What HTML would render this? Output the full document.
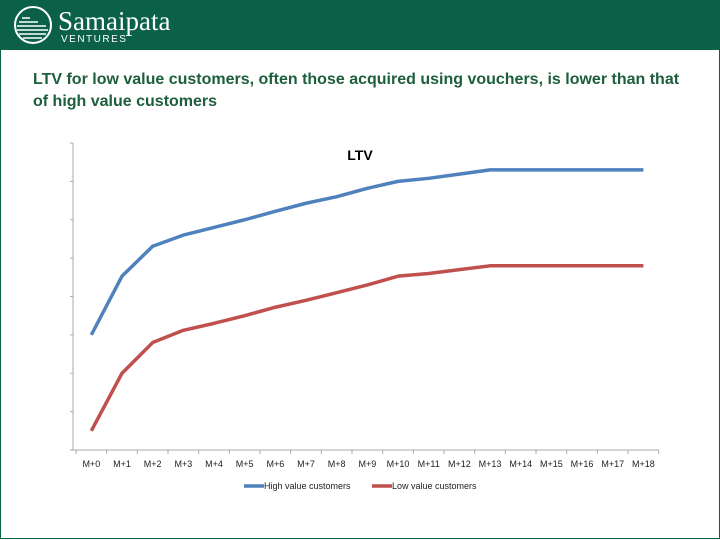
<!DOCTYPE html>
<html><head><meta charset="utf-8"><style>
body{margin:0;width:720px;height:540px;overflow:hidden;background:#fff;font-family:"Liberation Sans",sans-serif;position:relative}
#hdr{position:absolute;left:0;top:0;width:720px;height:50px;background:#0b6148}
#frame{position:absolute;left:0;top:50px;width:718px;height:488px;border:1px solid #0b6148;border-top:none}
#title{position:absolute;left:33px;top:69px;width:660px;font-size:16px;font-weight:bold;color:#1d5e3c;line-height:22px}
</style></head><body>
<div id="hdr">
<svg width="200" height="50">
<circle cx="33" cy="25" r="18" fill="none" stroke="#fff" stroke-width="2"/>
<g stroke="#fff" stroke-width="1.5"><line x1="22" y1="18" x2="30" y2="18"/><line x1="19" y1="22" x2="38" y2="22"/><line x1="17" y1="26" x2="46" y2="26"/><line x1="17" y1="30" x2="48" y2="30"/><line x1="19" y1="34" x2="46" y2="34"/><line x1="23" y1="38" x2="42" y2="38"/></g>
<text x="58" y="30" fill="#fff" font-family="Liberation Serif" font-size="27">Samaipata</text>
<text x="61" y="42" fill="#fff" font-size="10" letter-spacing="1.5">VENTURES</text>
</svg></div>
<div id="frame"></div>
<div id="title">LTV for low value customers, often those acquired using vouchers, is lower than that of high value customers</div>
<svg id="chart" width="720" height="540" style="position:absolute;left:0;top:0"></svg>
<script>
const categories=["M+0","M+1","M+2","M+3","M+4","M+5","M+6","M+7","M+8","M+9","M+10","M+11","M+12","M+13","M+14","M+15","M+16","M+17","M+18"];
const highValues=[3.0,4.53,5.31,5.6,5.8,6.0,6.22,6.43,6.6,6.82,7.0,7.08,7.19,7.3,7.3,7.3,7.3,7.3,7.3];
const lowValues=[0.5,2.0,2.8,3.12,3.3,3.5,3.72,3.9,4.1,4.3,4.53,4.6,4.7,4.8,4.8,4.8,4.8,4.8,4.8];
const yTicks=[0,1,2,3,4,5,6,7,8];
const seriesNames=["High value customers","Low value customers"];
const NS="http://www.w3.org/2000/svg",svg=document.getElementById('chart');
const x0=76,band=30.67,yBot=450,yTop=143,yMax=8;
const xs=i=>x0+band*(i+0.5), ys=v=>yBot-(v/yMax)*(yBot-yTop);
function mk(t,a){const e=document.createElementNS(NS,t);for(const k in a)e.setAttribute(k,a[k]);svg.appendChild(e);return e;}
let e=mk('line',{x1:73,y1:yTop,x2:73,y2:yBot,stroke:'#aaa'});


e=mk('line',{x1:73,y1:yBot,x2:x0+band*categories.length,y2:yBot,stroke:'#aaa'});


yTicks.forEach(v=>{const t=mk('line',{x1:70,y1:ys(v),x2:73,y2:ys(v),stroke:'#aaa'});

});
for(let i=0;i<=categories.length;i++){const t=mk('line',{x1:x0+band*i,y1:yBot,x2:x0+band*i,y2:yBot+4,stroke:'#aaa'});

}
categories.forEach((c,i)=>{const t=mk('text',{x:xs(i),y:467,'text-anchor':'middle','font-size':'9',fill:'#222'});t.textContent=c;

});
e=mk('text',{x:360,y:160,'text-anchor':'middle','font-size':'14','font-weight':'bold',fill:'#000'});e.textContent='LTV';


[[highValues,'#4f81bd','high-value-line'],[lowValues,'#c0504d','low-value-line']].forEach(([d,c,n])=>{
const p=mk('polyline',{points:d.map((v,i)=>xs(i)+','+ys(v)).join(' '),fill:'none',stroke:c,'stroke-width':3.5,'stroke-linejoin':'round'});

});
[[244,'#4f81bd',seriesNames[0]],[372,'#c0504d',seriesNames[1]]].forEach(([x,c,n])=>{
const l=mk('line',{x1:x,y1:486,x2:x+20,y2:486,stroke:c,'stroke-width':3.5});


const t=mk('text',{x:x+20,y:489,'font-size':'9',fill:'#222'});t.textContent=n;

});
</script>
</body></html>
